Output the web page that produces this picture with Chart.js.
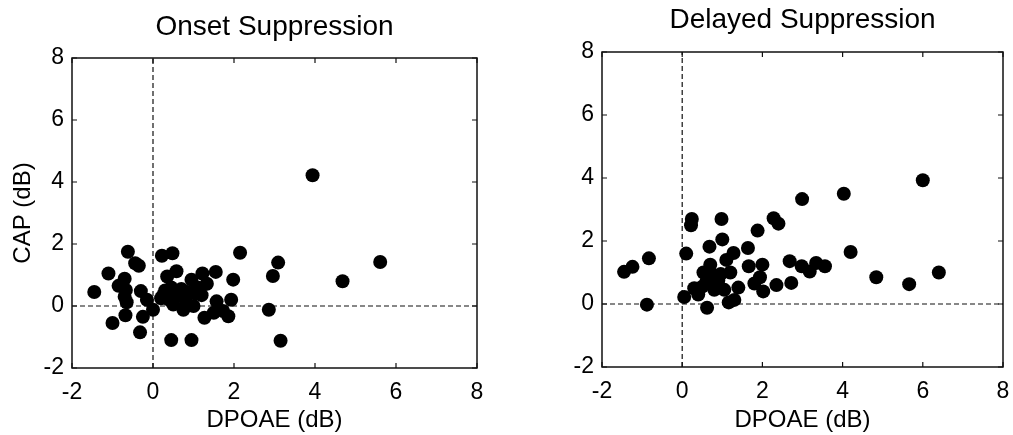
<!DOCTYPE html>
<html><head><meta charset="utf-8">
<script src="https://cdn.jsdelivr.net/npm/chart.js@4.4.1/dist/chart.umd.min.js"></script>
<style>
html,body{margin:0;padding:0;background:#fff;}
#wrap{position:relative;width:1013px;height:435px;overflow:hidden;background:#fff;}
.box{position:absolute;top:0;height:435px;}
</style></head><body>
<div id="wrap">
<div class="box" style="left:0;width:500px"><canvas id="c1" width="500" height="435"></canvas></div>
<div class="box" style="left:510px;width:503px"><canvas id="c2" width="503" height="435"></canvas></div>
</div>
<script>
const xTickValues = [-2, 0, 2, 4, 6, 8];
const yTickValues = [-2, 0, 2, 4, 6, 8];
const xAxisTitle = 'DPOAE (dB)';
const yAxisTitle = 'CAP (dB)';
const onsetTitle = 'Onset Suppression';
const delayedTitle = 'Delayed Suppression';

const onsetDPOAE = [-1.45,-1.1,-1.0,-0.62,-0.44,-0.35,-0.7,-0.85,-0.67,-0.7,-0.65,-0.68,-0.3,-0.25,-0.32,-0.15,0.0,0.22,0.48,0.35,0.58,0.25,0.2,0.45,0.5,0.4,0.7,0.8,0.62,0.95,1.05,1.0,1.22,1.55,1.33,1.2,1.27,1.5,1.57,1.73,1.93,1.98,1.86,2.15,0.75,0.85,0.45,0.95,2.86,2.96,3.09,3.15,3.94,4.68,5.61,1.1,0.3];
const onsetCAP = [0.45,1.05,-0.55,1.75,1.38,1.3,0.88,0.65,0.52,0.3,0.12,-0.3,0.48,-0.35,-0.85,0.2,-0.12,1.62,1.7,0.95,1.12,0.35,0.25,0.6,0.05,0.2,0.55,0.2,0.35,0.85,0.4,0.0,1.05,1.1,0.72,0.35,-0.38,-0.22,0.15,-0.16,0.2,0.85,-0.33,1.72,-0.12,0.45,-1.1,-1.1,-0.12,0.97,1.4,-1.12,4.22,0.8,1.42,0.6,0.5];

const delayedDPOAE = [-1.45,-1.24,-0.83,-0.88,0.05,0.1,0.24,0.22,0.62,0.68,0.98,1.0,0.7,0.53,1.1,1.28,1.64,1.88,2.28,2.4,2.99,4.03,4.2,4.84,1.66,2.0,2.68,2.98,3.18,3.34,3.56,2.72,2.35,2.02,1.94,1.8,1.4,1.3,1.16,1.2,0.96,0.3,0.4,0.6,0.8,0.9,1.05,0.75,6.0,5.66,6.4,0.5];
const delayedCAP = [1.02,1.18,1.45,-0.02,0.22,1.6,2.7,2.5,-0.12,1.82,2.7,2.05,1.25,1.0,1.4,1.62,1.78,2.33,2.72,2.55,3.33,3.5,1.65,0.85,1.2,1.25,1.36,1.2,1.03,1.3,1.2,0.67,0.6,0.4,0.85,0.65,0.52,0.13,0.05,1.0,0.95,0.5,0.3,0.7,0.45,0.75,0.45,0.95,3.93,0.63,1.0,0.55];

const FONT = '"Liberation Sans", Arial, sans-serif';

const framePlugin = {
  id: 'frame',
  afterDatasetsDraw(chart) {
    const {ctx, chartArea: a, scales} = chart;
    ctx.save();
    ctx.strokeStyle = '#111';
    ctx.lineWidth = 1.5;
    ctx.strokeRect(a.left, a.top, a.right - a.left, a.bottom - a.top);
    const L = 5;
    ctx.lineWidth = 1.2;
    ctx.beginPath();
    scales.x.ticks.forEach(t => {
      const px = scales.x.getPixelForValue(t.value);
      ctx.moveTo(px, a.bottom); ctx.lineTo(px, a.bottom - L);
      ctx.moveTo(px, a.top); ctx.lineTo(px, a.top + L);
    });
    scales.y.ticks.forEach(t => {
      const py = scales.y.getPixelForValue(t.value);
      ctx.moveTo(a.left, py); ctx.lineTo(a.left + L, py);
      ctx.moveTo(a.right, py); ctx.lineTo(a.right - L, py);
    });
    ctx.stroke();
    ctx.restore();
  },
  afterDraw(chart, args, opts) {
    const {ctx, chartArea: a} = chart;
    ctx.save();
    ctx.fillStyle = '#000';
    ctx.font = '28px ' + FONT;
    ctx.textAlign = 'center';
    ctx.textBaseline = 'middle';
    ctx.fillText(opts.text, (a.left + a.right) / 2, opts.y);
    ctx.restore();
  }
};

function makeChart(id, title, xs, ys, g) {
  const pts = xs.map((x, i) => ({x: x, y: ys[i]}));
  const fixTicks = vals => scale => { scale.ticks = vals.map(v => ({value: v})); };
  const zeroPad = (dim, size) => scale => {
    scale[dim] = size;
    scale.paddingTop = 0; scale.paddingBottom = 0; scale.paddingLeft = 0; scale.paddingRight = 0;
  };
  return new Chart(document.getElementById(id), {
    type: 'scatter',
    data: {
      datasets: [
        { data: pts, pointRadius: 7, pointHoverRadius: 7, pointBackgroundColor: '#000', pointBorderWidth: 0, borderColor: '#000', order: 0 },
        { type: 'line', data: [{x: -2, y: 0}, {x: 8, y: 0}], showLine: true, borderColor: '#111', borderWidth: 1.2, borderDash: [5, 3], pointRadius: 0, fill: false, order: 1 },
        { type: 'line', data: [{x: 0, y: -2}, {x: 0, y: 8}], showLine: true, borderColor: '#111', borderWidth: 1.2, borderDash: [5, 3], pointRadius: 0, fill: false, order: 1 }
      ]
    },
    options: {
      responsive: false,
      animation: false,
      devicePixelRatio: 1,
      layout: { padding: { left: 0, right: g.padRight, top: g.padTop, bottom: 0 } },
      plugins: {
        legend: { display: false },
        tooltip: { enabled: false },
        title: { display: false },
        frame: { text: title, y: g.titleY }
      },
      scales: {
        x: {
          type: 'linear', min: -2, max: 8,
          afterBuildTicks: fixTicks(xTickValues),
          afterFit: zeroPad('height', g.xHeight),
          grid: { display: true, drawOnChartArea: false, drawTicks: false },
          border: { display: false },
          ticks: { color: '#000', font: { size: 23, family: FONT }, padding: 11, maxRotation: 0, autoSkip: false },
          title: { display: true, text: xAxisTitle, color: '#000', font: { size: 24, family: FONT }, padding: { top: 0, bottom: 0 } }
        },
        y: {
          type: 'linear', min: -2, max: 8,
          afterBuildTicks: fixTicks(yTickValues),
          afterFit: zeroPad('width', g.yWidth),
          grid: { display: true, drawOnChartArea: false, drawTicks: false },
          border: { display: false },
          ticks: { color: '#000', font: { size: 23, family: FONT }, padding: 8, autoSkip: false },
          title: { display: g.showYTitle, text: yAxisTitle, color: '#000', font: { size: 24, family: FONT }, padding: { top: 9, bottom: 0 } }
        }
      }
    },
    plugins: [framePlugin]
  });
}

makeChart('c1', onsetTitle, onsetDPOAE, onsetCAP, { padRight: 23, padTop: 58, xHeight: 67, yWidth: 72, titleY: 27, showYTitle: true });
makeChart('c2', delayedTitle, delayedDPOAE, delayedCAP, { padRight: 10, padTop: 52, xHeight: 68, yWidth: 92, titleY: 20, showYTitle: false });
</script>
</body></html>
